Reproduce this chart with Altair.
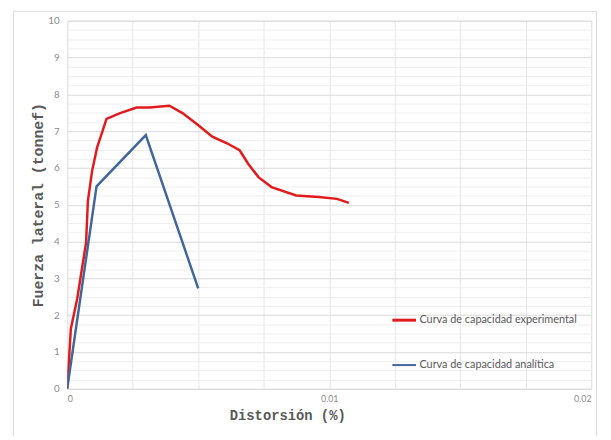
import altair as alt
import pandas as pd

# Experimental capacity curve
exp_x = [0, 0.00014, 0.00038, 0.00072, 0.00079, 0.00095, 0.00114, 0.0015, 0.00202,
         0.00265, 0.00315, 0.0039, 0.0044, 0.00497, 0.00554, 0.0061, 0.00658,
         0.00692, 0.0073, 0.0078, 0.00874, 0.0096, 0.0103, 0.01075]
exp_y = [0, 1.63, 2.44, 3.97, 5.1, 5.92, 6.55, 7.33, 7.49, 7.64, 7.64, 7.69, 7.49,
         7.18, 6.85, 6.67, 6.48, 6.10, 5.75, 5.48, 5.25, 5.21, 5.16, 5.05]
# Analytical capacity curve
ana_x = [0, 0.00112, 0.0030, 0.0050]
ana_y = [0, 5.50, 6.89, 2.73]

series = ["Curva de capacidad experimental", "Curva de capacidad analítica"]
colors = ["#e31a1c", "#43669a"]

x_grid = [0, 0.0025, 0.005, 0.0075, 0.01, 0.0125, 0.015, 0.0175, 0.02]
y_grid = [i * 0.25 for i in range(41)]

rows = []
for i, (a, b) in enumerate(zip(exp_x, exp_y)):
    rows.append({"x": a, "y": b, "serie": series[0], "i": i})
for i, (a, b) in enumerate(zip(ana_x, ana_y)):
    rows.append({"x": a, "y": b, "serie": series[1], "i": i})
df = pd.DataFrame(rows)

mono = "Liberation Mono"
sans = "Lato"

x_enc = alt.X("x:Q",
              scale=alt.Scale(domain=[0, 0.02], nice=False, zero=True),
              axis=alt.Axis(values=x_grid,
                            labelExpr="datum.value == 0 ? '0' : (abs(datum.value - 0.01) < 1e-9 ? '0.01' : (abs(datum.value - 0.02) < 1e-9 ? '0.02' : ''))",
                            title="Distorsión (%)", titleFont=mono, titleFontSize=14,
                            titleFontWeight="bold", titleColor="#595959",
                            titleX=223, titleY=27, titleBaseline="middle",
                            labelFont=sans, labelFontSize=9, labelColor="#8c8c8c",
                            labelPadding=6, ticks=False, domain=False,
                            grid=True, gridColor="#e6e6e6", gridWidth=1))
y_enc = alt.Y("y:Q",
              scale=alt.Scale(domain=[0, 10], nice=False),
              axis=alt.Axis(values=y_grid,
                            labelExpr="datum.value % 1 === 0 ? format(datum.value, 'd') : ''",
                            title="Fuerza lateral (tonnef)", titleFont=mono, titleFontSize=15,
                            titleFontWeight="bold", titleColor="#595959",
                            titleX=-30, titleBaseline="middle",
                            labelFont=sans, labelFontSize=10, labelColor="#8c8c8c",
                            labelPadding=8, ticks=False, domain=False,
                            grid=True,
                            gridColor={"condition": {"test": "datum.value % 1 === 0", "value": "#d9d9d9"}, "value": "#efefef"},
                            gridWidth=1))

lines = alt.Chart(df).mark_line(strokeWidth=2.5, clip=True).encode(
    x=x_enc,
    y=y_enc,
    order="i:Q",
    color=alt.Color("serie:N",
                    scale=alt.Scale(domain=series, range=colors),
                    sort=series,
                    legend=alt.Legend(title=None, orient="none", legendX=328, legendY=290,
                                      symbolType="stroke", symbolSize=576,
                                      symbolStrokeWidth=2.5, labelFont=sans,
                                      labelFontSize=11, labelColor="#595959",
                                      labelOffset=2, rowPadding=26, padding=0,
                                      labelLimit=400)),
    strokeWidth=alt.StrokeWidth("serie:N", scale=alt.Scale(domain=series, range=[3, 2]), legend=None),
)

frame = alt.Chart(pd.DataFrame({"a": [0]})).mark_rect(
    fill=None, stroke="#d9d9d9", strokeWidth=1, clip=False
).encode(x=alt.value(-54.5), x2=alt.value(536.5), y=alt.value(-9.5), y2=alt.value(440))

chart = alt.layer(frame, lines).properties(
    width=531, height=373,
    padding={"left": 60, "top": 10, "right": 12, "bottom": 45},
    autosize=alt.AutoSizeParams(type="none"),
).configure_view(stroke="#595959", strokeWidth=2).configure(background="white")

chart.save("out.html", embed_options={"renderer": "svg", "actions": False})
